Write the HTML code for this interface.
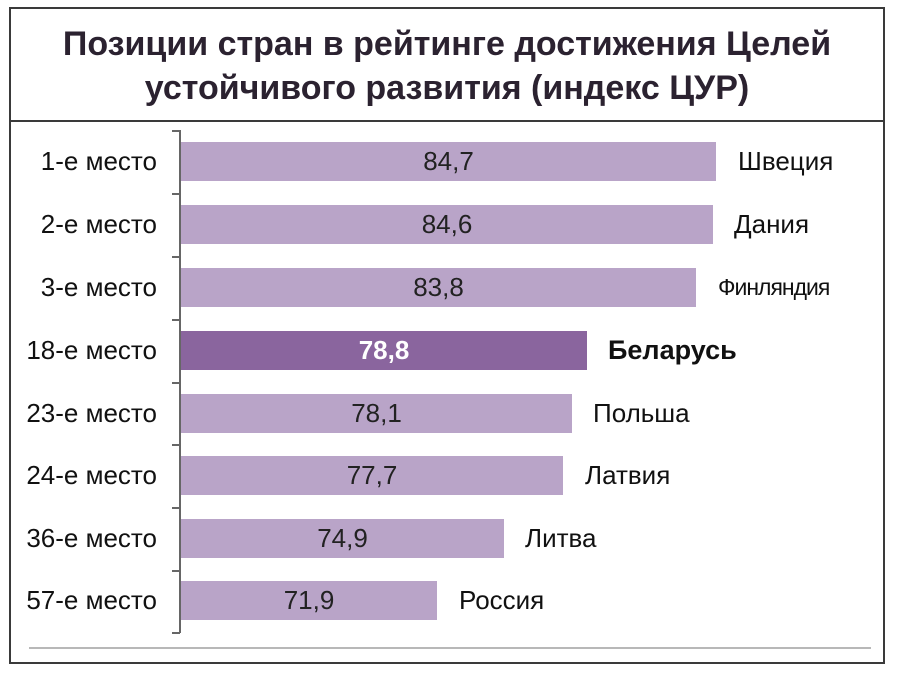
<!DOCTYPE html>
<html><head><meta charset="utf-8"><style>
body{margin:0;background:#fff;width:900px;height:674px;overflow:hidden;font-family:"Liberation Sans",sans-serif;position:relative}
.frame{position:absolute;left:9px;top:7px;width:876px;height:657px;border:2px solid #3a3a3a;box-sizing:border-box}
.div{position:absolute;left:9px;top:120px;width:876px;height:2px;background:#3a3a3a}
.title{position:absolute;left:9px;top:22px;width:876px;text-align:center;font-weight:bold;font-size:34px;line-height:44px;color:#2b2230}
.axis{position:absolute;left:179px;top:130px;width:2px;height:503px;background:#666}
.tick{position:absolute;left:172px;width:8px;height:2px;background:#666}
.bar{position:absolute;left:181px;height:39px;background:#b9a4c8}
.val{position:absolute;font-size:26px;color:#222;text-align:center}
.lab{position:absolute;font-size:26px;color:#111;text-align:right;width:160px;left:-3px}
.cty{position:absolute;font-size:26px;color:#111}
.bl{position:absolute;left:29px;top:647px;width:842px;height:2px;background:#b8b8b8}
</style></head><body>
<div class="frame"></div><div class="div"></div>
<div class="title">Позиции стран в рейтинге достижения Целей<br>устойчивого развития (индекс ЦУР)</div>
<div class="axis"></div>
<div class="tick" style="top:130px"></div><div class="tick" style="top:193px"></div><div class="tick" style="top:256px"></div><div class="tick" style="top:319px"></div><div class="tick" style="top:382px"></div><div class="tick" style="top:444px"></div><div class="tick" style="top:507px"></div><div class="tick" style="top:570px"></div><div class="tick" style="top:632px"></div>

<div class="bar" style="top:142px;width:535px"></div>
<div class="val" style="top:146px;left:181px;width:535px">84,7</div>
<div class="lab" style="top:146px">1-е место</div><div class="cty" style="top:146px;left:738px">Швеция</div>

<div class="bar" style="top:205px;width:532px"></div>
<div class="val" style="top:209px;left:181px;width:532px">84,6</div>
<div class="lab" style="top:209px">2-е место</div><div class="cty" style="top:209px;left:734px">Дания</div>

<div class="bar" style="top:268px;width:515px"></div>
<div class="val" style="top:272px;left:181px;width:515px">83,8</div>
<div class="lab" style="top:272px">3-е место</div><div class="cty" style="top:274px;left:718px;font-size:23px;letter-spacing:-1px">Финляндия</div>

<div class="bar" style="top:331px;width:406px;background:#8a659e"></div>
<div class="val" style="top:335px;left:181px;width:406px;color:#fff;font-weight:bold">78,8</div>
<div class="lab" style="top:335px">18-е место</div><div class="cty" style="top:335px;left:608px;font-weight:bold;font-size:27px">Беларусь</div>

<div class="bar" style="top:394px;width:391px"></div>
<div class="val" style="top:398px;left:181px;width:391px">78,1</div>
<div class="lab" style="top:398px">23-е место</div><div class="cty" style="top:398px;left:593px">Польша</div>

<div class="bar" style="top:456px;width:382px"></div>
<div class="val" style="top:460px;left:181px;width:382px">77,7</div>
<div class="lab" style="top:460px">24-е место</div><div class="cty" style="top:460px;left:585px">Латвия</div>

<div class="bar" style="top:519px;width:323px"></div>
<div class="val" style="top:523px;left:181px;width:323px">74,9</div>
<div class="lab" style="top:523px">36-е место</div><div class="cty" style="top:523px;left:525px">Литва</div>

<div class="bar" style="top:581px;width:256px"></div>
<div class="val" style="top:585px;left:181px;width:256px">71,9</div>
<div class="lab" style="top:585px">57-е место</div><div class="cty" style="top:585px;left:459px">Россия</div>

<div class="bl"></div>
</body></html>
